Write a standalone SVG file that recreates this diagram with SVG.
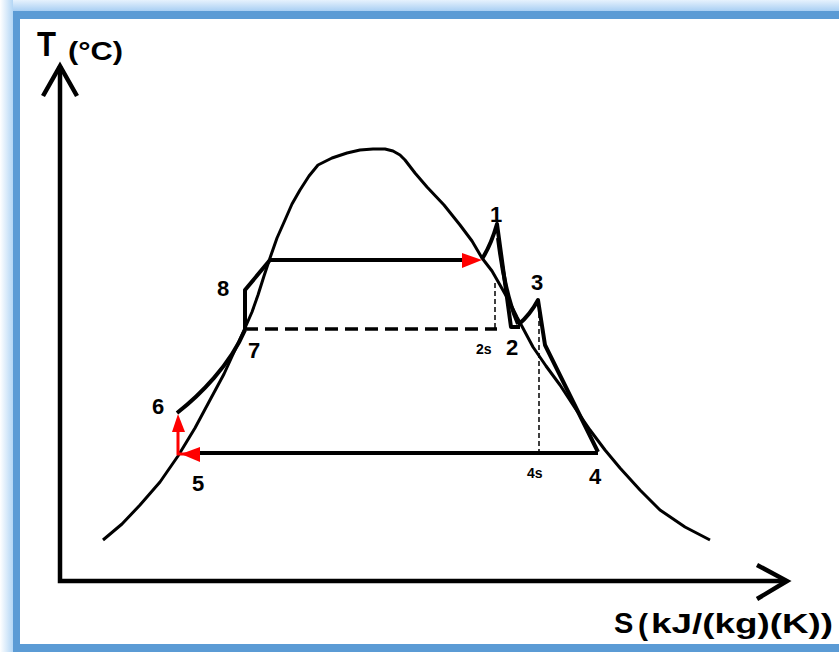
<svg xmlns="http://www.w3.org/2000/svg" width="839" height="652" viewBox="0 0 839 652">
<style>
.lbl{font-family:"Liberation Sans",Arial,sans-serif;font-weight:bold;fill:#000}
.cyc{fill:none;stroke:#000;stroke-width:4;stroke-linejoin:round;stroke-linecap:butt}
.thin{fill:none;stroke:#000;stroke-width:1.5;stroke-dasharray:5 3}
.red{fill:#ff0000;stroke:none}
</style>
<defs>
<linearGradient id="gt" x1="0" y1="0" x2="0" y2="1"><stop offset="0" stop-color="#e6f2fd"/><stop offset="1" stop-color="#a9cff3"/></linearGradient>
<linearGradient id="gl" x1="0" y1="0" x2="1" y2="0"><stop offset="0" stop-color="#ffffff"/><stop offset="1" stop-color="#b3d6f5"/></linearGradient>
</defs>
<rect width="839" height="652" fill="#fff"/>
<g id="frame">
<rect x="0" y="0" width="839" height="11" fill="url(#gt)"/>
<rect x="0" y="0" width="13" height="652" fill="url(#gl)"/>
<rect x="13" y="11" width="826" height="8" fill="#5b9bd5"/>
<rect x="13" y="11" width="7" height="641" fill="#5b9bd5"/>
<rect x="13" y="644" width="826" height="8" fill="#5b9bd5"/>
</g>
<g id="axes" fill="none" stroke="#000" stroke-width="4.5" stroke-linejoin="miter">
<path d="M60,66 V581 H786"/>
<path d="M43,96 L60,66 L77,96"/>
<path d="M757,565 L787,581 L757,599"/>
</g>
<g id="dome">
<polyline fill="none" stroke="#000" stroke-width="3" stroke-linejoin="round" points="103,540 122,524 140,505 160,482 178,456 195,428 210,400 224,374 235,350 245,328 252,312 258,295 264,276 270,258 277,238 285,220 292,204 300,190 309,176 318,165 332,158 347,153 360,150 373,149 385,149 393,151 400,155 405,160 415,173 427,187 444,205 460,225 472,241 482,258 492,271 500,285 509,301 517,317 525,332 533,347 546,366 560,385 575,408 590,430 605,450 620,468 640,490 660,510 685,527 710,540"/>
</g>
<g id="connectors">
<path class="cyc" d="M270,260 H464"/>
<polygon class="red" points="462,253 482,260 462,268"/>
<path class="cyc" d="M482,259 Q491,245 497,224 L511,327 H520"/>
<path class="cyc" stroke-width="2.5" d="M498,238 Q505,295 518,324"/>
<path class="cyc" d="M518,325 Q530,315 538,300 L545,345 L598,452"/>
<path class="cyc" d="M198,453 H598"/>
<path fill="none" stroke="#000" stroke-width="3.5" stroke-dasharray="13 7" d="M245,329 H497"/>
<path class="thin" d="M495,283 V330"/>
<path class="thin" d="M539,305 V452"/>
<path class="cyc" d="M177,413 C200,395 230,365 245,330"/>
<path class="cyc" d="M245,330 V290 L270,260"/>
<path fill="none" stroke="#ff0000" stroke-width="3" d="M178,455 V428 M177,454 H186"/>
<polygon class="red" points="172,432 178,414 185,432"/>
<polygon class="red" points="181,454 200,447 200,462"/>
</g>
<g id="labels">
<text class="lbl" x="37" y="56" font-size="35" textLength="19" lengthAdjust="spacingAndGlyphs">T</text>
<text class="lbl" x="68" y="60" font-size="26" textLength="55" lengthAdjust="spacingAndGlyphs">(°C)</text>
<text class="lbl" x="614" y="633" font-size="29">S</text>
<text class="lbl" x="638" y="635" font-size="30" font-weight="normal">(</text>
<text class="lbl" x="651" y="633" font-size="27" textLength="182" lengthAdjust="spacingAndGlyphs">kJ/(kg)(K))</text>
<text class="lbl" x="490" y="222" font-size="22">1</text>
<text class="lbl" x="506" y="355" font-size="22">2</text>
<text class="lbl" x="476" y="354" font-size="14">2s</text>
<text class="lbl" x="531" y="290" font-size="22">3</text>
<text class="lbl" x="589" y="484" font-size="22">4</text>
<text class="lbl" x="527" y="478" font-size="14">4s</text>
<text class="lbl" x="192" y="491" font-size="22">5</text>
<text class="lbl" x="152" y="414" font-size="22">6</text>
<text class="lbl" x="248" y="358" font-size="22">7</text>
<text class="lbl" x="217" y="296" font-size="22">8</text>
</g>
</svg>
